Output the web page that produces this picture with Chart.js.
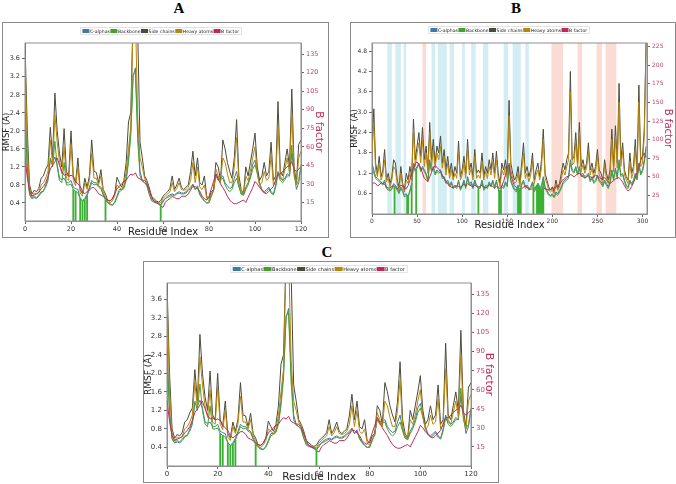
<!DOCTYPE html>
<html>
<head>
<meta charset="utf-8">
<script src="https://cdn.jsdelivr.net/npm/chart.js@4.4.1/dist/chart.umd.min.js"></script>
<style>
  body { margin: 0; background: #fff; width: 676px; height: 484px; position: relative; overflow: hidden; }
  .panel-title { position: absolute; font-family: 'Liberation Serif', serif; font-weight: bold; font-size: 15px; line-height: 15px; transform: translateX(-50%); color: #000; }
  .frame { position: absolute; border: 1.5px solid #8a8a8a; box-sizing: border-box; }
  canvas { position: absolute; }
</style>
</head>
<body>
<div class="panel-title" style="left:179px; top:1px">A</div>
<div class="frame" style="left:2px; top:22px; width:327px; height:216px"></div>
<canvas id="chartA" width="326" height="216" style="left:2px; top:22px"></canvas>

<div class="panel-title" style="left:516px; top:1px">B</div>
<div class="frame" style="left:350px; top:22px; width:326px; height:216px"></div>
<canvas id="chartB" width="325" height="215" style="left:350px; top:22px"></canvas>

<div class="panel-title" style="left:327px; top:245px">C</div>
<div class="frame" style="left:143px; top:261px; width:356px; height:222px"></div>
<canvas id="chartC" width="355" height="223" style="left:143px; top:261px"></canvas>

<script>
// Data: panel A (also shown again as panel C), residues 0-120
const residuesA = Array.from({ length: 121 }, (_, i) => i);

const calphaA = [
  2.6,1.2,0.6,0.5,0.52,0.5,0.55,0.62,0.68,0.75,
  0.9,1.35,1.3,1.42,1.25,0.95,0.92,0.95,0.85,0.85,
  0.9,0.75,0.72,0.7,0.5,0.45,0.5,0.6,0.75,0.9,
  0.85,0.85,0.78,0.75,0.6,0.5,0.42,0.38,0.36,0.42,
  0.55,0.7,0.7,0.75,0.95,1.4,2.0,3.2,3.4,2.0,
  1.1,0.9,0.85,0.8,0.6,0.45,0.42,0.4,0.38,0.35,
  0.42,0.5,0.55,0.58,0.6,0.58,0.62,0.65,0.62,0.62,
  0.65,0.7,0.75,0.82,0.7,0.78,0.6,0.52,0.45,0.4,
  0.42,0.55,0.7,1.05,0.95,0.95,1.0,0.85,0.78,0.72,
  0.75,0.95,1.1,0.8,0.6,0.58,0.75,0.85,1.0,1.25,
  1.35,1.1,0.85,0.7,0.65,0.7,0.75,0.65,0.6,0.8,
  1.1,0.95,0.9,0.95,1.05,1.0,1.5,1.1,0.7,0.85,
  1.2
];
const backboneA = [
  2.4,1.1,0.58,0.5,0.55,0.52,0.58,0.65,0.65,0.8,
  0.95,1.4,1.2,1.77,1.2,0.9,0.85,1.3,0.8,0.8,
  0.82,0.7,0.66,0.62,0.5,0.44,0.47,0.56,0.7,0.85,
  0.8,0.82,0.75,0.72,0.58,0.46,0.4,0.36,0.35,0.4,
  0.52,0.65,0.68,0.72,0.9,1.3,1.9,3.25,3.3,1.8,
  1.0,0.88,0.85,0.78,0.6,0.48,0.45,0.42,0.4,0.36,
  0.45,0.5,0.52,0.55,0.58,0.56,0.6,0.62,0.6,0.6,
  0.62,0.68,0.72,0.8,0.7,0.75,0.58,0.5,0.44,0.4,
  0.4,0.55,0.68,1.0,0.9,0.92,0.95,0.8,0.7,0.65,
  0.7,0.85,0.95,0.75,0.6,0.57,0.7,0.8,0.95,1.15,
  1.25,1.05,0.8,0.68,0.62,0.65,0.72,0.62,0.58,0.75,
  1.05,0.9,0.85,0.92,1.0,1.0,1.68,1.0,0.8,0.9,
  1.25
];
const sideA = [
  3.95,2.0,0.8,0.6,0.68,0.65,0.72,0.95,1.0,1.15,
  1.25,2.08,1.4,2.84,2.0,1.5,1.2,2.05,1.1,1.0,
  2.0,1.0,0.85,1.4,0.7,0.6,0.95,0.75,1.0,1.8,
  1.1,1.08,0.85,1.14,0.7,0.6,0.45,0.45,0.5,0.6,
  0.97,0.85,0.75,0.9,1.3,2.2,2.4,4.6,4.8,4.2,
  1.75,1.4,1.0,0.9,0.75,0.55,0.5,0.45,0.42,0.45,
  0.55,0.6,0.65,0.72,1.0,0.7,0.8,0.95,0.75,0.7,
  0.75,0.8,1.1,1.55,1.0,1.4,0.85,0.8,1.0,0.55,
  0.5,0.65,0.7,1.3,1.2,0.9,1.8,1.6,1.3,1.1,
  0.95,1.4,2.25,1.0,0.7,0.6,1.2,1.0,1.3,1.6,
  1.95,1.2,0.9,1.0,1.3,1.0,1.1,1.75,0.9,1.0,
  2.65,1.1,1.0,1.3,1.6,1.2,2.93,1.2,0.85,1.7,
  1.8
];
const heavyA = [
  3.7,1.6,0.72,0.55,0.62,0.6,0.64,0.8,0.85,0.95,
  1.1,1.8,1.25,2.36,1.75,1.3,1.05,1.65,0.95,0.9,
  1.7,0.9,0.78,1.2,0.62,0.55,0.85,0.7,0.9,1.5,
  0.95,0.95,0.8,1.0,0.65,0.55,0.42,0.4,0.45,0.55,
  0.8,0.75,0.7,0.8,1.1,1.6,2.1,4.5,4.6,2.3,
  1.4,1.2,0.95,0.85,0.7,0.5,0.45,0.42,0.4,0.4,
  0.5,0.55,0.6,0.65,0.85,0.65,0.72,0.85,0.7,0.68,
  0.7,0.75,0.9,1.3,0.85,1.2,0.75,0.7,0.8,0.5,
  0.45,0.6,0.65,1.15,1.0,0.85,1.4,1.3,1.05,0.85,
  0.85,1.2,1.85,0.85,0.65,0.58,1.0,0.9,1.1,1.4,
  1.65,1.05,0.8,0.85,1.1,0.9,0.95,1.45,0.8,0.9,
  2.1,1.0,0.9,1.15,1.4,1.05,2.4,1.1,0.8,1.4,
  1.55
];
const bfactorA = [
  52,35,24,20,21,22,23,26,28,31,
  36,42,45,48,51,45,40,37,38,36,
  37,36,32,30,28,24,22,24,25,27,
  27,25,22,21,20,18,17,16,18,22,
  26,28,30,32,33,36,38,37,39,35,
  34,33,33,30,25,20,16,15,14,12,
  11,15,17,18,20,19,18,18,20,20,
  20,22,25,28,28,26,24,20,18,17,
  20,26,32,38,34,30,27,24,20,17,
  15,14,14,15,16,17,15,19,23,27,
  32,30,27,25,23,22,24,26,28,33,
  38,38,40,42,44,45,48,42,40,42,
  44
];
// Ligand-contact residues (green vertical bars) and bar heights
const contactsA = [21, 22, 24, 25, 26, 27, 35, 59];
const contactHeightsA = [0.7, 0.66, 0.5, 0.44, 0.47, 0.56, 0.46, 0.36];

// Data: panel B, every second residue 0-304
const residuesB = Array.from({ length: 153 }, (_, i) => i * 2);

const calphaB = [
  1.5,1.3,1.1,1.05,1.0,0.95,0.9,1.0,0.8,0.75,
  0.7,0.75,0.9,0.85,0.75,0.65,0.8,0.7,0.55,0.6,
  0.5,0.7,0.9,1.5,1.3,1.4,1.5,1.3,1.4,1.3,
  1.2,1.0,1.6,1.3,1.4,1.2,1.3,1.25,1.3,1.1,
  1.1,0.95,1.0,0.85,0.95,0.8,0.85,0.8,1.0,0.75,
  0.85,1.0,0.8,1.1,0.9,0.95,0.8,1.0,0.85,0.8,
  0.8,1.0,0.75,0.85,0.8,0.95,0.85,1.0,0.8,1.0,
  0.75,0.6,0.85,0.8,0.95,0.85,1.5,1.0,0.85,0.75,
  0.7,0.85,0.65,0.9,1.0,0.8,0.85,0.75,0.8,0.95,
  0.7,0.8,0.9,0.75,0.85,1.1,0.8,0.7,0.6,0.55,
  0.6,0.5,0.65,0.6,0.7,0.8,0.95,1.0,1.05,1.1,
  1.6,1.3,1.25,1.4,1.2,1.4,1.15,1.2,1.1,1.15,
  1.2,1.0,1.1,0.95,1.0,1.15,1.0,0.95,0.85,1.0,
  0.9,0.8,0.95,1.3,1.05,1.35,1.1,1.6,1.15,1.2,
  1.0,0.85,0.8,1.0,0.9,1.0,1.2,1.05,1.5,1.2,
  1.3,1.6,2.0
];
const backboneB = [
  1.4,1.2,1.05,1.0,0.95,0.9,0.85,0.95,0.75,0.7,
  0.68,0.72,0.85,0.8,0.7,0.6,0.75,0.65,0.5,0.55,
  0.5,0.65,0.85,1.4,1.25,1.35,1.45,1.25,1.35,1.25,
  1.15,0.95,1.5,1.25,1.35,1.15,1.25,1.2,1.25,1.05,
  1.05,0.9,0.95,0.8,0.9,0.75,0.8,0.75,0.95,0.7,
  0.8,0.95,0.75,1.05,0.85,0.9,0.75,0.95,0.8,0.78,
  0.75,0.95,0.7,0.8,0.75,0.9,0.8,0.95,0.75,0.95,
  0.72,0.58,0.8,0.75,0.9,0.8,1.4,0.95,0.8,0.7,
  0.65,0.8,0.62,0.85,0.95,0.75,0.8,0.7,0.75,0.9,
  0.65,0.75,0.85,0.72,0.8,1.05,0.75,0.65,0.55,0.52,
  0.55,0.48,0.6,0.55,0.65,0.75,0.9,0.95,1.0,1.05,
  1.5,1.25,1.2,1.35,1.15,1.35,1.1,1.15,1.05,1.1,
  1.15,0.95,1.05,0.9,0.95,1.1,0.95,0.9,0.8,0.95,
  0.85,0.75,0.9,1.25,1.0,1.3,1.05,1.5,1.1,1.15,
  0.95,0.8,0.75,0.95,0.85,0.95,1.15,1.0,1.4,1.15,
  1.25,1.5,1.9
];
const sideB = [
  2.0,3.1,1.5,1.2,1.7,1.1,1.3,1.9,1.0,1.2,
  0.9,1.1,1.6,1.5,1.0,0.8,1.4,0.9,0.7,1.2,
  1.0,1.4,1.1,2.8,1.6,2.0,2.4,1.7,2.55,1.6,
  2.0,1.3,2.7,1.6,2.2,1.5,2.0,1.8,2.3,1.5,
  1.9,1.3,1.7,1.2,1.5,1.1,1.4,1.2,2.15,1.1,
  1.3,1.7,1.2,2.2,1.3,1.5,1.1,1.9,1.2,1.3,
  1.2,1.8,1.1,1.4,1.2,1.6,1.3,1.8,1.2,1.85,
  1.2,0.9,1.5,1.3,1.6,1.2,3.35,1.5,1.2,1.0,
  1.1,1.4,0.9,1.5,2.1,1.2,1.4,1.1,1.3,1.8,
  1.0,1.3,1.5,1.1,1.6,2.5,1.2,1.0,0.8,0.7,
  0.8,0.65,1.0,0.75,0.9,1.2,1.5,1.3,1.6,1.8,
  4.2,1.6,1.7,2.4,1.5,2.7,1.4,1.6,1.3,1.5,
  2.1,1.3,1.5,1.2,1.4,1.9,1.3,1.2,1.0,1.6,
  1.2,1.0,1.3,2.5,1.4,2.6,1.5,3.85,1.6,2.1,
  1.3,1.1,1.0,1.8,1.2,1.4,2.2,1.3,3.8,1.6,
  1.7,2.5,5.2
];
const heavyB = [
  1.8,2.7,1.3,1.1,1.5,1.0,1.15,1.6,0.95,1.05,
  0.8,1.0,1.4,1.3,0.9,0.7,1.2,0.8,0.65,1.0,
  0.9,1.2,1.0,2.5,1.4,1.8,2.1,1.5,2.2,1.4,
  1.8,1.2,2.4,1.4,1.9,1.35,1.8,1.6,2.0,1.35,
  1.7,1.15,1.5,1.05,1.3,1.0,1.2,1.05,1.85,1.0,
  1.15,1.5,1.05,1.95,1.15,1.35,1.0,1.7,1.05,1.15,
  1.05,1.55,1.0,1.25,1.05,1.4,1.15,1.55,1.05,1.6,
  1.05,0.8,1.3,1.15,1.4,1.05,2.9,1.3,1.05,0.9,
  0.95,1.2,0.8,1.3,1.8,1.05,1.2,0.95,1.15,1.55,
  0.9,1.15,1.3,1.0,1.4,2.2,1.05,0.9,0.7,0.65,
  0.7,0.6,0.9,0.7,0.8,1.05,1.3,1.15,1.4,1.6,
  3.6,1.45,1.5,2.1,1.35,2.4,1.25,1.45,1.2,1.35,
  1.85,1.15,1.35,1.05,1.25,1.7,1.15,1.05,0.9,1.4,
  1.05,0.9,1.15,2.2,1.25,2.3,1.35,3.3,1.4,1.85,
  1.15,1.0,0.9,1.55,1.05,1.25,1.9,1.15,3.3,1.4,
  1.5,2.3,5.0
];
const bfactorB = [
  40,42,41,38,39,42,41,40,36,35,
  35,37,38,36,34,36,39,37,35,34,
  38,45,55,62,68,70,66,62,55,48,
  46,44,50,56,62,65,63,60,58,52,
  48,44,40,38,36,35,37,38,37,36,
  38,40,38,41,39,38,36,39,37,36,
  37,39,36,35,37,39,38,37,35,37,
  36,34,38,44,52,62,66,52,44,38,
  36,34,32,34,36,38,36,34,33,34,
  35,37,36,34,33,35,34,33,32,33,
  34,35,36,38,40,44,46,48,50,51,
  53,52,50,52,54,55,52,50,49,50,
  52,50,49,50,52,51,49,47,48,49,
  46,43,41,43,45,47,48,49,46,43,
  38,34,31,33,37,42,48,56,64,72,
  78,82,76
];
const contactsB = [25, 39, 40, 44, 49, 118, 141, 142, 143, 162, 163, 164, 165, 179, 183, 184, 185, 186, 187, 188, 189, 190];
const contactHeightsB = [0.82, 0.55, 0.5, 0.9, 1.3, 0.78, 0.7, 0.6, 0.68, 0.8, 0.75, 0.65, 0.72, 0.9, 0.85, 0.9, 0.85, 0.78, 0.75, 0.72, 0.8, 0.95];

// Secondary-structure shading in panel B
const blueBands = [[17,22],[26,32],[35,38],[66,70],[73,83],[86,91],[100,103],[110,115],[123,129],[146,151],[156,165],[170,174]];
const salmonBands = [[56,60],[199,212],[228,233],[249,255],[259,271]];

const seriesColors = {
    calpha: '#3f7aa8',
    backbone: '#46a12b',
    side: '#4b4b3a',
    heavy: '#b8860b',
    bfactor: '#c2285f',
    contact: '#3cb034'
};

Chart.defaults.font.family = "'DejaVu Sans', sans-serif";

// Plot frame (all four spines)
const framePlugin = {
    id: 'frame',
    afterDatasetsDraw(chart) {
        const { ctx, chartArea: a } = chart;
        ctx.save();
        ctx.strokeStyle = '#8f8f8f';
        ctx.lineWidth = 1;
        ctx.strokeRect(a.left, a.top, a.right - a.left, a.bottom - a.top);
        ctx.restore();
    }
};

// Vertical shaded bands
const bandsPlugin = {
    id: 'bands',
    beforeDatasetsDraw(chart, args, opts) {
        if (!opts.sets) return;
        const { ctx, chartArea: a, scales: { x } } = chart;
        ctx.save();
        opts.sets.forEach(set => {
            ctx.fillStyle = set.color;
            set.ranges.forEach(([s, e]) => {
                const x0 = x.getPixelForValue(s);
                const x1 = x.getPixelForValue(e);
                ctx.fillRect(x0, a.top, x1 - x0, a.bottom - a.top);
            });
        });
        ctx.restore();
    }
};

// Small matplotlib-like legend above the plot
const legendPlugin = {
    id: 'miniLegend',
    afterDraw(chart, args, opts) {
        const ctx = chart.ctx;
        ctx.save();
        ctx.font = opts.fontSize + "px 'DejaVu Sans'";
        const items = chart.data.datasets
            .filter(d => d.type !== 'bar')
            .map(d => ({ label: d.label, color: d.borderColor }));
        const widths = items.map(it => opts.boxW + 0.5 + ctx.measureText(it.label).width + 0.5);
        const total = widths.reduce((a, b) => a + b, 0);
        let x = opts.cx - total / 2;
        ctx.fillStyle = '#fff';
        ctx.strokeStyle = '#dcdcdc';
        ctx.lineWidth = 0.8;
        ctx.fillRect(x - 2, opts.cy - 3.5, total + 4, 7);
        ctx.strokeRect(x - 2, opts.cy - 3.5, total + 4, 7);
        ctx.textBaseline = 'middle';
        items.forEach((it, i) => {
            ctx.fillStyle = it.color;
            ctx.fillRect(x, opts.cy - opts.boxH / 2, opts.boxW, opts.boxH);
            ctx.fillStyle = '#222';
            ctx.fillText(it.label, x + opts.boxW + 0.5, opts.cy + 0.3);
            x += widths[i];
        });
        ctx.restore();
    }
};

const dropZero = s => { s.ticks = s.ticks.filter(t => t.value !== 0); };

function buildPanel(canvasId, cfg) {
    const ctx = document.getElementById(canvasId).getContext('2d');
    const line = (label, values, color, axis, order) => ({
        label: label,
        data: cfg.x.map((x, i) => ({ x: x, y: values[i] })),
        borderColor: color,
        backgroundColor: color,
        borderWidth: 1,
        pointRadius: 0,
        tension: 0,
        yAxisID: axis,
        order: order
    });

    return new Chart(ctx, {
        type: 'line',
        data: {
            datasets: [
                line('C-alphas', cfg.calpha, seriesColors.calpha, 'y', 5),
                line('Backbone', cfg.backbone, seriesColors.backbone, 'y', 4),
                line('Side chains', cfg.side, seriesColors.side, 'y', 3),
                line('Heavy atoms', cfg.heavy, seriesColors.heavy, 'y', 2),
                line('B factor', cfg.bfactor, seriesColors.bfactor, 'y1', 1),
                {
                    type: 'bar',
                    label: 'Contacts',
                    data: cfg.contacts.map((r, i) => ({ x: r, y: cfg.contactHeights[i] })),
                    backgroundColor: seriesColors.contact,
                    borderWidth: 0,
                    barThickness: 1.2,
                    yAxisID: 'y',
                    order: 0
                }
            ]
        },
        options: {
            responsive: false,
            animation: false,
            events: [],
            layout: { padding: cfg.pad },
            plugins: {
                legend: { display: false },
                tooltip: { enabled: false },
                miniLegend: cfg.legend,
                bands: { sets: cfg.bands }
            },
            scales: {
                x: {
                    type: 'linear',
                    offset: false,
                    min: 0,
                    max: cfg.xMax,
                    ticks: { stepSize: cfg.xStep, includeBounds: false, maxRotation: 0, padding: 1, color: '#333', font: { size: cfg.tickSize } },
                    grid: { drawOnChartArea: false, offset: false, tickLength: 3, color: '#666' },
                    border: { color: '#8f8f8f' },
                    title: { display: true, text: 'Residue Index', color: '#222', padding: 0, font: { size: cfg.xTitleSize } },
                    afterFit: s => { s.height = cfg.xH; }
                },
                y: {
                    position: 'left',
                    min: 0,
                    max: cfg.yMax,
                    ticks: { stepSize: cfg.yStep, includeBounds: false, padding: 2, color: '#333', font: { size: cfg.tickSize }, callback: v => v.toFixed(1) },
                    grid: { drawOnChartArea: false, tickLength: 3, color: '#666' },
                    border: { color: '#8f8f8f' },
                    title: { display: true, text: 'RMSF (Å)', color: '#222', padding: 0, font: { size: cfg.yTitleSize } },
                    afterBuildTicks: dropZero,
                    afterFit: s => { s.width = cfg.yW; }
                },
                y1: {
                    position: 'right',
                    min: 0,
                    max: cfg.y1Max,
                    ticks: { stepSize: cfg.y1Step, includeBounds: false, padding: 2, color: '#c0466e', font: { size: cfg.tickSize } },
                    grid: { drawOnChartArea: false, tickLength: 3, color: '#666' },
                    border: { color: '#8f8f8f' },
                    title: { display: true, text: 'B factor', color: '#c2285f', padding: 0, font: { size: cfg.y1TitleSize } },
                    afterBuildTicks: dropZero,
                    afterFit: s => { s.width = cfg.y1W; }
                }
            }
        },
        plugins: [bandsPlugin, framePlugin, legendPlugin]
    });
}

// Panel A
buildPanel('chartA', {
    x: residuesA, calpha: calphaA, backbone: backboneA, side: sideA, heavy: heavyA, bfactor: bfactorA,
    contacts: contactsA, contactHeights: contactHeightsA,
    xMax: 120, xStep: 20, yMax: 3.95, yStep: 0.4, y1Max: 144, y1Step: 15,
    pad: { top: 21, left: 0, right: 3, bottom: 0 }, yW: 23, y1W: 24, xH: 17,
    tickSize: 6.5, xTitleSize: 10, yTitleSize: 8.5, y1TitleSize: 10.5,
    legend: { cx: 159, cy: 9, fontSize: 4.6, boxW: 7, boxH: 4 },
    bands: null
});

// Panel B
buildPanel('chartB', {
    x: residuesB, calpha: calphaB, backbone: backboneB, side: sideB, heavy: heavyB, bfactor: bfactorB,
    contacts: contactsB, contactHeights: contactHeightsB,
    xMax: 305, xStep: 50, yMax: 5.04, yStep: 0.6, y1Max: 230, y1Step: 25,
    pad: { top: 21, left: 0, right: 1, bottom: 6 }, yW: 22, y1W: 27, xH: 17,
    tickSize: 6, xTitleSize: 10, yTitleSize: 8.5, y1TitleSize: 10,
    legend: { cx: 159, cy: 8, fontSize: 4.6, boxW: 7, boxH: 4 },
    bands: [
        { color: '#d3edf5', ranges: blueBands },
        { color: '#fbdcd5', ranges: salmonBands }
    ]
});

// Panel C
buildPanel('chartC', {
    x: residuesA, calpha: calphaA, backbone: backboneA, side: sideA, heavy: heavyA, bfactor: bfactorA,
    contacts: contactsA, contactHeights: contactHeightsA,
    xMax: 120, xStep: 20, yMax: 3.95, yStep: 0.4, y1Max: 144, y1Step: 15,
    pad: { top: 22, left: 0, right: 3, bottom: 0 }, yW: 24, y1W: 24, xH: 18,
    tickSize: 7, xTitleSize: 10.5, yTitleSize: 9, y1TitleSize: 11,
    legend: { cx: 176, cy: 8, fontSize: 5, boxW: 8, boxH: 4 },
    bands: null
});
</script>
</body>
</html>
